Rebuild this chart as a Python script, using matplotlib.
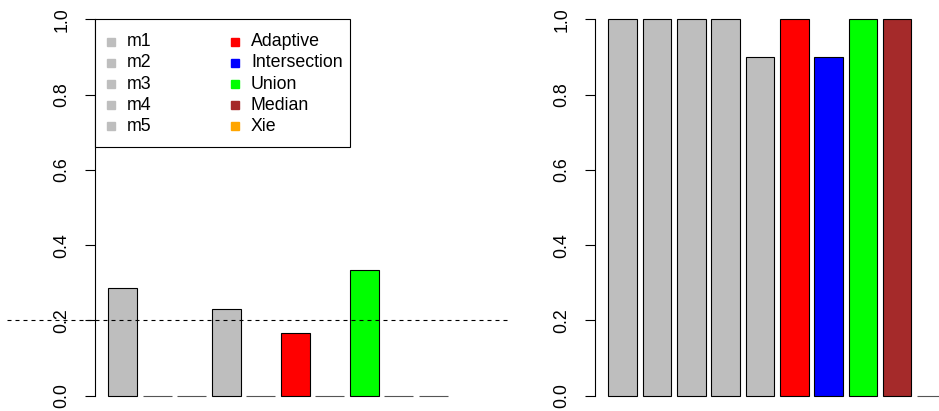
import numpy as np
import matplotlib
matplotlib.use("Agg")
import matplotlib.pyplot as plt
import matplotlib.transforms as mtransforms

plt.rcParams['font.family'] = ['Liberation Sans', 'DejaVu Sans']

# Data
labels = ['m1', 'm2', 'm3', 'm4', 'm5', 'Adaptive', 'Intersection', 'Union', 'Median', 'Xie']
colors = ['#BEBEBE'] * 5 + ['#FF0000', '#0000FF', '#00FF00', '#A52A2A', '#FFA500']
left_vals = [0.2857, 0, 0, 0.2308, 0, 0.1667, 0, 0.3333, 0, 0]
right_vals = [1, 1, 1, 1, 0.9, 1, 0.9, 1, 1, 0]
ref_line = 0.2
yticks = [0.0, 0.2, 0.4, 0.6, 0.8, 1.0]

W, H = 939, 411
fig = plt.figure(figsize=(W / 100, H / 100), dpi=100)


def px_rect(x0, x1, ytop, ybot):
    return [x0 / W, 1 - ybot / H, (x1 - x0) / W, (ybot - ytop) / H]


ax1 = fig.add_axes(px_rect(94.7, 461.1, 19.3, 395.7))
ax2 = fig.add_axes(px_rect(594.8, 959.3, 19.3, 395.7))

# R barplot geometry: width 1, space 0.2
xpos = 0.7 + 1.2 * np.arange(len(labels))

for ax, vals in [(ax1, left_vals), (ax2, right_vals)]:
    bars = ax.bar(xpos, vals, width=1, color=colors, edgecolor='black', linewidth=0.8)
    for b in bars:
        b.set_clip_on(False)
        if b.get_height() == 0:
            b.set_edgecolor('#555555')
    ax.set_xlim(-0.272, 12.472)
    ax.set_ylim(0, 1)
    for s in ['top', 'right', 'bottom']:
        ax.spines[s].set_visible(False)
    ax.spines['left'].set_bounds(0, 1)
    ax.spines['left'].set_linewidth(0.8)
    ax.set_xticks([])
    ax.set_yticks(yticks)
    ax.set_yticklabels(['%.1f' % t for t in yticks], rotation=90, va='center')
    ax.tick_params(axis='y', length=7.5, width=0.8, pad=10, labelsize=12.8)
    ax.patch.set_visible(False)

# dashed reference line (drawn outside plot region as in the original)
blend = mtransforms.blended_transform_factory(fig.transFigure, ax1.transData)
ax1.plot([7 / W, 508 / W], [ref_line, ref_line], transform=blend, color='black',
         linestyle=(0, (3.6, 3.6)), linewidth=0.8, clip_on=False)

# legend box
box = plt.Rectangle((95 / W, 1 - 146.7 / H), (350 - 95) / W, (146.7 - 19.3) / H,
                    transform=fig.transFigure, facecolor='white', edgecolor='black',
                    linewidth=0.8)
fig.add_artist(box)
for i, lab in enumerate(labels):
    col, row = i // 5, i % 5
    yy = 1 - (41.7 + 21.2 * row) / H
    fig.add_artist(plt.Line2D([(111 + 124 * col) / W], [yy], marker='s', markersize=6,
                              color=colors[i], linestyle='none', transform=fig.transFigure))
    fig.text((127 + 124 * col) / W, yy, lab, fontsize=12.8, va='center', ha='left')

fig.savefig('out.png', dpi=100)
